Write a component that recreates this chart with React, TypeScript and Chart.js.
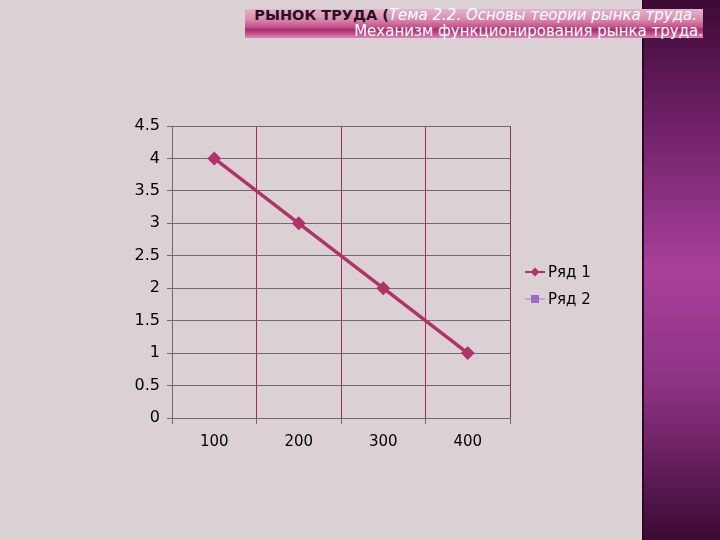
import React, { useEffect, useRef } from "react";
import { Chart, registerables } from "chart.js";

Chart.register(...registerables);

const categories = ["100", "200", "300", "400"];
const series1: (number | null)[] = [4, 3, 2, 1];
const series2: (number | null)[] = [null, null, null, null];
const seriesNames = ["Ряд 1", "Ряд 2"];
const yTicksMin = 0;
const yTicksMax = 4.5;
const yTicksStep = 0.5;

const GRAY = "#6f6a6d";
const RED = "#a2285e";

const legendPlugin = {
  id: "excelLegend",
  afterDraw(chart: any) {
    const ctx = chart.ctx as CanvasRenderingContext2D;
    const x0 = 525;
    const ys = [272, 299];
    chart.data.datasets.forEach((ds: any, i: number) => {
      const y = ys[i];
      ctx.save();
      ctx.strokeStyle = ds.borderColor;
      ctx.lineWidth = 2;
      ctx.beginPath();
      ctx.moveTo(x0, y);
      ctx.lineTo(x0 + 20, y);
      ctx.stroke();
      ctx.fillStyle = ds.pointBackgroundColor;
      const cx = x0 + 10;
      if (ds.pointStyle === "rectRot") {
        ctx.beginPath();
        ctx.moveTo(cx, y - 4.5);
        ctx.lineTo(cx + 4.5, y);
        ctx.lineTo(cx, y + 4.5);
        ctx.lineTo(cx - 4.5, y);
        ctx.closePath();
        ctx.fill();
      } else {
        ctx.fillRect(cx - 4, y - 4, 8, 8);
      }
      ctx.fillStyle = "#000";
      ctx.font = "15px 'DejaVu Sans'";
      ctx.textBaseline = "middle";
      ctx.textAlign = "left";
      ctx.fillText(ds.label, x0 + 23, y + 1);
      ctx.restore();
    });
  },
};

function ChartView() {
  const ref = useRef<HTMLCanvasElement | null>(null);
  useEffect(() => {
    if (!ref.current) return;
    const chart = new Chart(ref.current, {
      type: "line",
      data: {
        labels: categories,
        datasets: [
          {
            label: seriesNames[0],
            data: series1,
            borderColor: "#b0346a",
            backgroundColor: "#b0346a",
            pointBackgroundColor: "#b0346a",
            pointBorderColor: "#b0346a",
            pointStyle: "rectRot",
            pointRadius: 4.5,
            borderWidth: 3.5,
            tension: 0,
          } as any,
          {
            label: seriesNames[1],
            data: series2,
            borderColor: "#c9a6d6",
            backgroundColor: "#9b6cc4",
            pointBackgroundColor: "#9b6cc4",
            pointBorderColor: "#9b6cc4",
            pointStyle: "rect",
            pointRadius: 4,
            borderWidth: 2,
          } as any,
        ],
      },
      options: {
        animation: false,
        responsive: false,
        maintainAspectRatio: false,
        layout: { padding: { left: 112, right: 210, top: 126, bottom: 82 } },
        plugins: { legend: { display: false }, tooltip: { enabled: false } },
        scales: {
          x: {
            offset: true,
            grid: {
              offset: true,
              color: (c: any) => (c.index === 0 ? GRAY : RED),
              tickLength: 6,
              tickColor: GRAY,
              lineWidth: 1,
            },
            border: { color: GRAY },
            ticks: {
              color: "#000",
              font: { family: "'DejaVu Sans'", size: 15 },
              padding: 9,
              maxRotation: 0,
            },
            afterFit: (s: any) => {
              s.height = 40;
            },
          },
          y: {
            min: yTicksMin,
            max: yTicksMax,
            ticks: {
              stepSize: yTicksStep,
              color: "#000",
              font: { family: "'DejaVu Sans'", size: 16 },
              padding: 7,
              callback: (v: any) => String(v),
            },
            grid: { color: GRAY, tickLength: 5, tickColor: GRAY },
            border: { color: GRAY },
            afterFit: (s: any) => {
              s.width = 60;
            },
          },
        },
      },
      plugins: [legendPlugin],
    });
    return () => chart.destroy();
  }, []);
  return <canvas ref={ref} width={720} height={540} style={{ position: "absolute", left: 0, top: 0 }} />;
}

export default function App() {
  return (
    <div
      style={{
        position: "fixed",
        left: 0,
        top: 0,
        width: 720,
        height: 540,
        background: "#dbd1d5",
        overflow: "hidden",
        fontFamily: "'DejaVu Sans', sans-serif",
      }}
    >
      <div
        style={{
          position: "absolute",
          left: 642,
          top: 0,
          width: 78,
          height: 540,
          background:
            "linear-gradient(to bottom, #3c0a34 0%, #6e2066 22%, #a8409a 50%, #8c3282 72%, #3c0a34 100%)",
          borderLeft: "2px solid #2c0626",
        }}
      />
      <div
        style={{
          position: "absolute",
          left: 245,
          top: 9,
          width: 458,
          height: 29,
          background:
            "linear-gradient(to bottom, #e2b6cb 0%, #d98cb2 35%, #c8568e 60%, #a82e6a 72%, #c4508a 85%, #d98ab6 100%)",
        }}
      />
      <div
        style={{
          position: "absolute",
          right: 23,
          top: 7,
          whiteSpace: "nowrap",
          fontSize: 15,
          lineHeight: "17px",
        }}
      >
        <span style={{ fontWeight: "bold", color: "#2a1020", fontSize: 14.5 }}>РЫНОК ТРУДА (</span>
        <span style={{ fontStyle: "italic", color: "#fff" }}>Тема 2.2. Основы теории рынка труда.</span>
      </div>
      <div
        style={{
          position: "absolute",
          right: 17,
          top: 23,
          whiteSpace: "nowrap",
          fontSize: 15,
          lineHeight: "16px",
          color: "#fff",
        }}
      >
        Механизм функционирования рынка труда.
      </div>
      <ChartView />
    </div>
  );
}
